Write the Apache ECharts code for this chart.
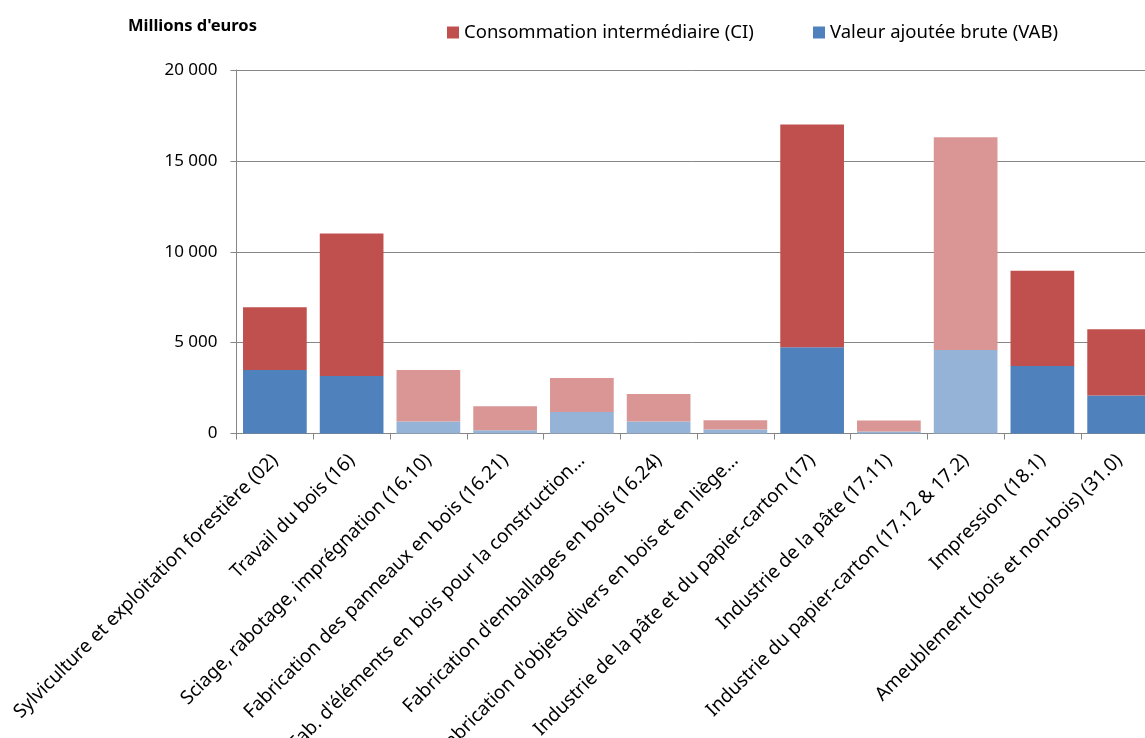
<!DOCTYPE html>
<html><head><meta charset="utf-8">
<script src="https://cdn.jsdelivr.net/npm/echarts@6/dist/echarts.min.js"></script>
<style>html,body{margin:0;padding:0;background:#fff;overflow:hidden}#c{width:1145px;height:738px}</style>
</head><body><div id="c"></div>
<script>
const categories = [
  "Sylviculture et exploitation forestière (02)",
  "Travail du bois (16)",
  "Sciage, rabotage, imprégnation (16.10)",
  "Fabrication des panneaux en bois (16.21)",
  "Fab. d'éléments en bois pour la construction...",
  "Fabrication d'emballages en bois (16.24)",
  "Fabrication d'objets divers en bois et en liège...",
  "Industrie de la pâte et du papier-carton (17)",
  "Industrie de la pâte (17.11)",
  "Industrie du papier-carton (17.12 & 17.2)",
  "Impression (18.1)",
  "Ameublement (bois et non-bois) (31.0)"
];
const vab = [3500, 3170, 660, 185, 1180, 660, 220, 4740, 110, 4590, 3710, 2095];
const ci  = [3450, 7830, 2830, 1315, 1870, 1510, 515, 12260, 605, 11710, 5240, 3635];
const isSubBranch = [false, false, true, true, true, true, true, false, true, true, false, false];
const yTickValues = [0, 5000, 10000, 15000, 20000];
const yTickLabels = ["0", "5 000", "10 000", "15 000", "20 000"];
const seriesNames = ["Consommation intermédiaire (CI)", "Valeur ajoutée brute (VAB)"];

const FONT = "Noto Sans";
const RED = "#C0504D", RED_L = "#D99694", BLUE = "#4F81BD", BLUE_L = "#95B3D7";
const AX = "#868686";

const chart = echarts.init(document.getElementById("c"), null, {renderer: "canvas"});
chart.setOption({
  animation: false,
  textStyle: {fontFamily: FONT},
  title: {
    text: "Millions d'euros", left: 123, top: 13,
    textStyle: {fontFamily: FONT, fontSize: 16.5, fontWeight: "bold", color: "#000"}
  },
  legend: [
    {data: [{name: seriesNames[0], itemStyle: {color: RED}}], left: 442, top: 18,
     itemWidth: 12, itemHeight: 12, icon: "rect",
     textStyle: {fontFamily: FONT, fontSize: 18.5, color: "#000"}},
    {data: [{name: seriesNames[1], itemStyle: {color: BLUE}}], left: 808, top: 18,
     itemWidth: 12, itemHeight: 12, icon: "rect",
     textStyle: {fontFamily: FONT, fontSize: 18.5, color: "#000"}}
  ],
  grid: {left: 236.5, top: 70, width: 921, height: 363.5, containLabel: false, outerBoundsMode: "none"},
  xAxis: {
    type: "category", data: categories,
    axisLine: {lineStyle: {color: AX, width: 1}},
    axisTick: {show: true, length: 6, lineStyle: {color: AX}},
    axisLabel: {interval: 0, rotate: 45, margin: 24, color: "#000", fontSize: 19, fontFamily: FONT}
  },
  yAxis: {
    type: "value", min: 0, max: 20000, interval: 5000,
    axisLine: {show: true, lineStyle: {color: AX, width: 1}},
    axisTick: {show: true, length: 6, lineStyle: {color: AX}},
    splitLine: {lineStyle: {color: AX, width: 1}},
    axisLabel: {
      margin: 19, color: "#000", fontSize: 17, fontFamily: FONT,
      formatter: v => { const i = yTickValues.indexOf(v); return i >= 0 ? yTickLabels[i] : ""; }
    }
  },
  series: [
    {name: seriesNames[1], type: "bar", stack: "t", data: vab, barCategoryGap: "17%",
     itemStyle: {color: p => isSubBranch[p.dataIndex] ? BLUE_L : BLUE}},
    {name: seriesNames[0], type: "bar", stack: "t", data: ci, barCategoryGap: "17%",
     itemStyle: {color: p => isSubBranch[p.dataIndex] ? RED_L : RED}}
  ]
});
</script></body></html>
